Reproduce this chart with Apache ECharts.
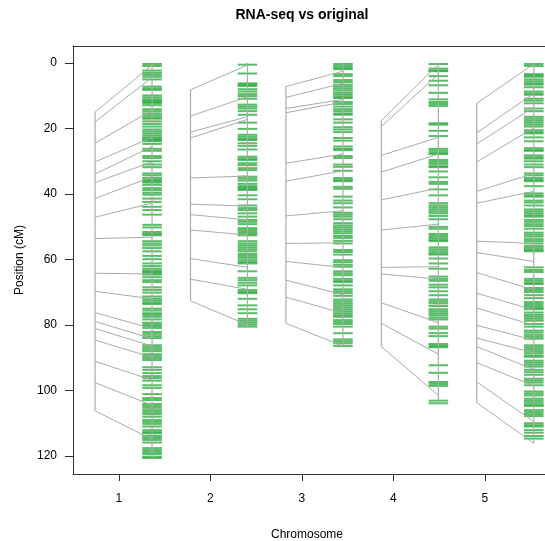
<!DOCTYPE html>
<html><head><meta charset="utf-8">
<script src="https://cdn.jsdelivr.net/npm/echarts@6/dist/echarts.min.js"></script>
<style>html,body{margin:0;padding:0;background:#fff}#c{width:545px;height:541px}</style>
</head><body><div id="c"></div>
<script>
// ---- data (cM) ----
const chromosomes = ['1','2','3','4','5'];
const yTicks = [0,20,40,60,80,100,120];

// RNA-seq marker positions per chromosome
const chr1Markers = [0.3,0.9,2.3,3.0,3.6,4.2,5.0,7.2,7.8,8.2,9.9,10.5,11.1,11.5,11.9,12.3,12.9,14.1,14.7,15.4,16.0,16.6,17.0,17.8,18.6,19.4,20.3,20.9,21.5,22.1,22.7,23.1,23.5,23.9,24.7,26.2,26.8,28.4,29.0,30.0,31.0,31.8,33.7,34.3,35.1,35.7,36.1,36.5,37.2,38.2,38.8,39.6,40.2,41.4,42.4,43.9,44.9,46.3,49.4,50.2,51.6,52.2,52.6,54.4,55.1,55.7,56.5,57.5,58.9,59.9,61.2,62.0,62.8,63.4,63.8,64.2,64.6,65.4,66.3,66.9,68.5,69.3,70.1,71.3,72.0,72.6,73.2,73.6,75.0,75.6,76.4,76.9,77.5,78.3,79.3,79.8,80.3,80.9,82.1,82.7,83.4,84.0,86.2,86.8,87.4,88.0,88.9,89.5,90.1,90.7,92.9,93.7,94.7,95.6,96.2,97.0,98.4,99.2,101.1,102.3,102.9,104.1,104.7,105.3,106.0,106.6,107.2,108.0,109.0,109.6,110.2,111.0,112.1,112.7,113.1,113.9,114.5,115.1,115.9,117.6,118.2,118.8,119.4,120.2,120.6];
const chr2Markers = [0.5,3.2,6.2,6.6,7.0,8.0,8.7,9.5,10.1,10.9,12.7,13.3,13.9,14.7,15.8,18.2,20.1,21.9,22.5,23.1,23.5,24.5,25.3,26.4,28.6,29.2,29.6,30.6,31.2,32.1,32.7,34.7,35.3,35.9,36.9,37.6,38.0,38.4,38.8,40.4,41.6,43.5,44.3,44.9,45.9,46.9,47.9,48.5,49.2,50.4,51.0,51.6,52.2,52.6,54.4,55.1,55.7,56.3,56.9,57.5,58.3,58.9,59.5,60.2,60.8,61.2,63.6,65.6,66.3,67.1,67.9,69.3,69.9,70.3,72.0,74.0,75.2,76.4,78.1,78.7,79.3,79.9,80.5];
const chr3Markers = [0.3,0.9,1.5,1.9,3.4,4.0,5.2,5.8,6.6,7.2,7.8,8.4,9.1,9.7,10.3,10.7,11.9,12.5,13.3,14.1,14.7,15.4,15.8,17.2,18.2,19.6,20.3,21.1,22.9,23.7,25.5,26.2,26.6,28.4,29.0,31.0,31.7,32.9,35.1,35.7,36.1,37.8,38.4,40.8,42.0,42.8,44.1,45.7,46.3,46.9,47.7,48.9,49.6,50.2,50.8,51.4,52.0,52.8,53.4,54.3,55.1,57.1,57.7,58.5,60.2,60.8,61.6,62.2,63.6,64.2,64.8,65.9,66.5,66.9,67.9,69.1,69.7,70.3,71.1,72.2,72.8,73.4,74.0,74.6,75.2,75.8,76.4,77.0,77.5,78.5,79.1,79.7,80.5,82.5,84.4,85.0,85.6,86.4];
const chr4Markers = [0.3,1.7,2.3,2.5,4.0,5.4,6.8,9.1,11.1,11.9,12.5,13.1,18.4,18.8,20.7,22.3,26.2,26.8,27.4,27.8,29.6,30.2,30.8,31.5,31.8,33.1,34.9,36.3,36.9,38.6,40.4,42.8,43.5,44.1,44.7,45.3,45.9,46.7,47.7,50.0,50.6,52.2,52.8,53.4,54.0,54.4,56.3,56.9,57.5,58.1,58.5,59.7,61.2,62.8,65.2,65.9,66.5,67.7,68.5,69.7,70.9,72.2,72.8,73.4,74.2,75.2,75.8,76.4,77.0,77.7,78.3,80.5,81.1,82.5,83.4,85.8,86.4,86.8,92.3,94.6,97.4,98.0,98.6,103.1,103.9];
const chr5Markers = [0.3,0.9,3.4,3.8,4.2,5.0,5.6,6.2,6.6,7.4,8.7,9.3,9.7,10.9,11.5,12.3,13.9,14.7,16.4,17.0,17.6,18.2,18.8,19.4,20.5,21.1,21.5,22.7,23.9,26.0,26.6,26.8,28.2,28.8,29.2,30.0,31.0,31.8,33.7,34.3,35.1,35.7,36.1,37.6,39.8,40.4,40.8,42.0,42.6,43.5,44.7,45.3,45.9,46.5,46.9,47.9,48.5,49.2,49.8,50.6,51.8,52.4,53.0,53.8,54.4,55.1,55.9,56.5,57.1,57.5,62.4,63.2,63.8,65.9,66.5,67.1,67.5,68.7,69.3,69.9,70.9,71.8,73.0,73.6,74.2,74.8,75.2,76.2,76.9,77.5,78.1,78.7,79.7,80.5,81.7,82.3,83.0,83.6,84.2,86.2,86.8,87.4,88.0,88.6,89.3,89.7,90.9,91.5,92.1,92.7,93.7,94.4,95.2,96.4,97.0,97.6,98.4,100.3,100.9,101.5,102.5,103.1,103.7,104.3,104.7,106.0,106.6,107.2,107.8,110.0,110.6,111.0,112.1,112.9,113.9,114.7];

// original map positions and matching RNA-seq positions
const chr1Orig = [15.0,18.0,24.5,30.2,33.9,36.5,41.4,47.1,53.6,64.2,69.7,76.2,78.9,81.1,84.6,91.1,97.6,106.2];
const chr1New  = [0.6,4.4,14.4,22.7,25.5,30.2,34.7,42.8,53.2,64.4,72.0,81.1,84.2,86.4,89.9,96.8,104.5,114.9];
const chr2Orig = [8.2,16.2,21.1,22.9,35.1,43.1,46.3,51.0,59.7,66.0,72.6];
const chr2New  = [0.6,10.3,16.4,17.2,34.5,43.7,47.9,52.5,62.4,69.1,80.0];
const chr3Orig = [7.2,10.5,13.9,15.2,30.6,36.1,46.7,55.1,60.6,66.3,71.5,79.5];
const chr3New  = [2.5,6.2,11.1,11.9,27.8,32.9,45.1,54.9,62.4,70.7,76.4,86.4];
const chr4Orig = [17.6,19.4,28.2,33.3,41.8,51.0,62.4,64.4,73.2,79.5,86.6];
const chr4New  = [0.3,3.4,22.7,27.8,38.2,49.2,62.2,66.0,79.3,88.9,101.5];
const chr5Orig = [12.3,21.3,24.7,30.2,39.2,42.8,54.4,57.9,64.0,70.3,74.8,80.1,84.0,86.6,91.5,97.4,103.7];
const chr5New  = [0.3,9.3,13.5,19.8,33.7,39.2,55.1,60.6,69.3,75.4,80.1,84.6,88.5,93.6,98.6,109.5,116.1];

// RNA-seq map lengths (right bar extent)
const rnaLengths = [121.0, 80.5, 86.4, 103.9, 116.1];

// ---- layout helpers (not data) ----
const leftX  = i => 0.741 + i * 1.043;
const rightX = i => 1.364 + i * 1.043;
const HALF = 0.107;

const allMarkers = [chr1Markers, chr2Markers, chr3Markers, chr4Markers, chr5Markers];
const allOrig = [chr1Orig, chr2Orig, chr3Orig, chr4Orig, chr5Orig];
const allNew = [chr1New, chr2New, chr3New, chr4New, chr5New];

const tickData = [];
allMarkers.forEach((arr, i) => arr.forEach(p => tickData.push([i, p])));
const linkData = [];
allOrig.forEach((arr, i) => arr.forEach((p, k) => linkData.push([i, p, allNew[i][k]])));
const barData = [];
allOrig.forEach((arr, i) => {
  barData.push([i, 0, arr[0], arr[arr.length - 1]]);
  barData.push([i, 1, 0, rnaLengths[i]]);
});

const GRAY = '#ababab';
const FONT = 'Liberation Sans, Arial, sans-serif';
const chart = echarts.init(document.getElementById('c'), null, {renderer: 'canvas'});
chart.setOption({
  animation: false,
  backgroundColor: '#fff',
  textStyle: {fontFamily: FONT},
  title: [
    {text: 'RNA-seq vs original', left: 297, top: 3, textAlign: 'center',
     textStyle: {fontSize: 14, fontWeight: 'bold', color: '#000', fontFamily: FONT}},
    {text: 'Chromosome', left: 302, top: 524, textAlign: 'center',
     textStyle: {fontSize: 12, fontWeight: 'normal', color: '#000', fontFamily: FONT}}
  ],
  grid: {left: 73, top: 46, right: 0, height: 428, show: false},
  xAxis: [{
    type: 'value', min: 0.5, max: 0.5 + 472 / 91.5, position: 'bottom',
    splitLine: {show: false},
    axisLine: {show: true, onZero: false, lineStyle: {color: '#333'}},
    axisTick: {show: true, length: 7, lineStyle: {color: '#333'}, customValues: [1,2,3,4,5]},
    axisLabel: {color: '#000', fontSize: 12, margin: 19, customValues: [1,2,3,4,5],
      formatter: v => chromosomes[Math.round(v) - 1] || ''}
  }, {
    type: 'value', min: 0.5, max: 0.5 + 472 / 91.5, position: 'top',
    splitLine: {show: false},
    axisLine: {show: true, onZero: false, lineStyle: {color: '#333'}},
    axisTick: {show: false}, axisLabel: {show: false}
  }],
  yAxis: {
    type: 'value', inverse: true, min: -5.2, max: 125.5,
    name: 'Position (cM)', nameLocation: 'middle', nameGap: 38,
    nameTextStyle: {color: '#000', fontSize: 12},
    splitLine: {show: false},
    axisLine: {show: true, onZero: false, lineStyle: {color: '#333'}},
    axisTick: {show: true, length: 8, lineStyle: {color: '#333'}, customValues: yTicks},
    axisLabel: {color: '#000', fontSize: 12, margin: 16, customValues: yTicks}
  },
  series: [
    {
      type: 'custom', coordinateSystem: 'cartesian2d', clip: false, z: 2,
      data: tickData,
      renderItem: (params, api) => {
        const i = api.value(0), p = api.value(1);
        const a = api.coord([rightX(i) - HALF, p]);
        const b = api.coord([rightX(i) + HALF, p]);
        return {type: 'line', shape: {x1: a[0], y1: a[1], x2: b[0], y2: b[1]},
          style: {stroke: 'rgba(25,165,45,0.72)', lineWidth: 2}};
      }
    },
    {
      type: 'custom', coordinateSystem: 'cartesian2d', clip: false, z: 3,
      data: linkData,
      renderItem: (params, api) => {
        const i = api.value(0);
        const a = api.coord([leftX(i), api.value(1)]);
        const b = api.coord([rightX(i), api.value(2)]);
        return {type: 'line', shape: {x1: a[0], y1: a[1], x2: b[0], y2: b[1]},
          style: {stroke: GRAY, lineWidth: 1}};
      }
    },
    {
      type: 'custom', coordinateSystem: 'cartesian2d', clip: false, z: 3,
      data: barData,
      renderItem: (params, api) => {
        const i = api.value(0), side = api.value(1);
        const x = side === 0 ? leftX(i) : rightX(i);
        const a = api.coord([x, api.value(2)]);
        const b = api.coord([x, api.value(3)]);
        return {type: 'line', shape: {x1: a[0], y1: a[1], x2: b[0], y2: b[1]},
          style: {stroke: GRAY, lineWidth: 1.2}};
      }
    }
  ]
});
</script></body></html>
